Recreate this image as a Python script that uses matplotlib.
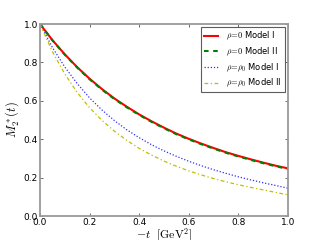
import matplotlib
matplotlib.use("Agg")
import matplotlib.pyplot as plt

t = [0.0, 0.05, 0.1, 0.15, 0.2, 0.25, 0.3, 0.35, 0.4, 0.45, 0.5,
     0.55, 0.6, 0.65, 0.7, 0.75, 0.8, 0.85, 0.9, 0.95, 1.0]
rho0_model1 = [1.0, 0.916, 0.842, 0.775, 0.715, 0.661, 0.612, 0.569, 0.529, 0.493, 0.460,
               0.429, 0.402, 0.377, 0.354, 0.332, 0.313, 0.295, 0.278, 0.262, 0.248]
rho0_model2 = [1.0, 0.915, 0.840, 0.773, 0.712, 0.658, 0.609, 0.566, 0.526, 0.490, 0.457,
               0.426, 0.399, 0.374, 0.351, 0.329, 0.310, 0.292, 0.275, 0.259, 0.245]
rhoN_model1 = [1.0, 0.878, 0.776, 0.690, 0.615, 0.552, 0.497, 0.449, 0.408, 0.371, 0.339,
               0.311, 0.285, 0.262, 0.241, 0.222, 0.204, 0.188, 0.173, 0.159, 0.145]
rhoN_model2 = [1.0, 0.856, 0.740, 0.643, 0.564, 0.498, 0.442, 0.394, 0.352, 0.317, 0.286,
               0.259, 0.235, 0.214, 0.195, 0.178, 0.163, 0.149, 0.136, 0.123, 0.110]
labels = [r'$\rho\!=\!0$ Model I', r'$\rho\!=\!0$ Model II',
          r'$\rho\!=\!\rho_0$ Model I', r'$\rho\!=\!\rho_0$ Model II']
xticks = [0.0, 0.2, 0.4, 0.6, 0.8, 1.0]
yticks = [0.0, 0.2, 0.4, 0.6, 0.8, 1.0]

plt.rcParams['mathtext.fontset'] = 'cm'
plt.rcParams['font.family'] = 'DejaVu Sans'

fig = plt.figure(figsize=(3.2, 2.4), dpi=100)
ax = fig.add_axes([0.125, 0.1, 0.775, 0.8])

ax.plot(t, rho0_model1, color='#ff0000', lw=1.5, ls='-', label=labels[0])
ax.plot(t, rho0_model2, color='#008000', lw=1.5, ls=(0, (2.2, 2.2)), label=labels[1])
ax.plot(t, rhoN_model1, color='#3030ff', lw=0.9, ls=(0, (1, 1.5)), label=labels[2])
ax.plot(t, rhoN_model2, color='#bfbf00', lw=0.9, ls=(0, (3, 2, 1, 2)), label=labels[3])

ax.set_xlim(0, 1)
ax.set_ylim(0, 1)
ax.set_xticks(xticks)
ax.set_yticks(yticks)
ax.set_xticklabels([f'{v:.1f}' for v in xticks])
ax.set_yticklabels([f'{v:.1f}' for v in yticks])
ax.tick_params(direction='in', length=2.5, width=0.6, labelsize=6.5, pad=1.5,
               top=True, right=True, colors='#555555', labelcolor='black')
for s in ax.spines.values():
    s.set_color('#999999')
    s.set_linewidth(1.3)

ax.set_xlabel(r'$-t\ \ [\mathrm{GeV}^2]$', fontsize=8.5, labelpad=0)
ax.set_ylabel(r'$M_2^*(t)$', fontsize=9, labelpad=2)

leg = ax.legend(loc='upper right', fontsize=6.0, frameon=True, fancybox=False,
                handlelength=1.7, borderpad=0.35, labelspacing=0.4,
                borderaxespad=0.4, handletextpad=1.0)
leg.get_frame().set_edgecolor('#333333')
leg.get_frame().set_linewidth(0.8)

fig.savefig('out.png', dpi=100, facecolor='white')
